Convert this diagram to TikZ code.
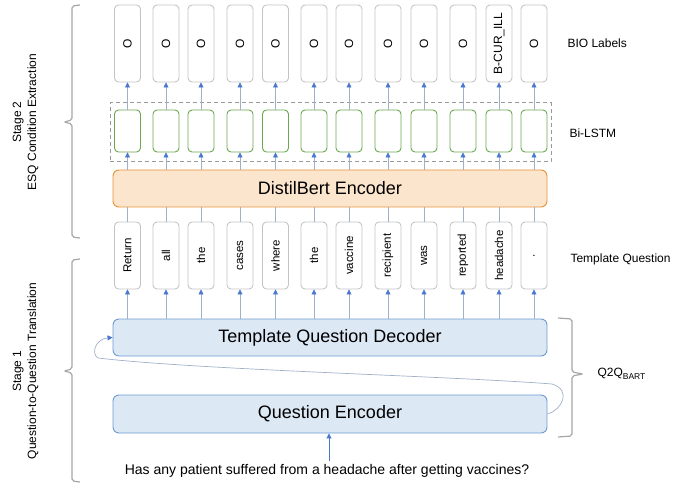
\documentclass[tikz,border=0pt]{standalone}
\usepackage{fontspec}
\setmainfont{Liberation Sans}
\usetikzlibrary{arrows.meta}
\definecolor{boxgray}{HTML}{C4C4C4}
\definecolor{lstmgreen}{HTML}{6AA84F}
\definecolor{bertfill}{HTML}{FCE5CD}
\definecolor{bertdraw}{HTML}{E69138}
\definecolor{q2qfill}{HTML}{DDE8F5}
\definecolor{q2qdraw}{HTML}{6C9BD2}
\definecolor{arrline}{HTML}{9FB0C8}
\definecolor{arrtip}{HTML}{4A78CF}
\definecolor{bracegray}{HTML}{A6A6A6}
\definecolor{dashgray}{HTML}{9A9A9A}
\begin{document}
\begin{tikzpicture}[x=1pt,y=-1pt,
  tokbox/.style={draw=boxgray,line width=.9,rounded corners=4,minimum width=26,minimum height=67,inner sep=0},
  biobox/.style={tokbox,minimum height=77},
  lstm/.style={draw=lstmgreen,line width=.9,rounded corners=4,minimum width=26,minimum height=42,inner sep=0},
  bigbox/.style={draw=q2qdraw,fill=q2qfill,line width=.9,rounded corners=6,minimum width=434,minimum height=37,inner sep=0,font=\fontsize{18}{20}\selectfont},
  toktext/.style={rotate=90,font=\fontsize{11.5}{13}\selectfont},
  side/.style={anchor=west,font=\fontsize{12}{14}\selectfont},
  arr/.style={draw=arrline,line width=.7,-{Triangle[length=5pt,width=5pt,color=arrtip]}},
  brc/.style={draw=bracegray,line width=1.2,rounded corners=2}]
\useasboundingbox (0,0) rectangle (694,484);
\node[draw=dashgray,dash pattern=on 4pt off 3pt,line width=1,minimum width=441,minimum height=59,inner sep=0] (grp) at (330.5,132.5) {};
\node[bigbox,draw=bertdraw,fill=bertfill] (bert) at (330,188.5) {DistilBert Encoder};
\node[bigbox] (dec) at (330,337.5) {Template Question Decoder};
\node[bigbox,minimum height=38] (enc) at (330,414) {Question Encoder};
\node[font=\fontsize{14}{16}\selectfont] (q) at (327,471) {Has any patient suffered from a headache after getting vaccines?};
\foreach \x/\w/\l [count=\i] in {127.5/Return/O, 166/all/O, 201/the/O, 240/cases/O, 275.5/where/O, 314/the/O, 349/vaccine/O, 388/recipient/O, 424/was/O, 463/reported/O, 499/headache/B-CUR\_ILL, 534/./O}{
  \node[tokbox] (t\i) at (\x,255.5) {};
  \node[toktext] at (t\i) {\w};
  \node[lstm] (h\i) at (\x,131) {};
  \node[biobox] (o\i) at (\x,43.5) {};
  \node[toktext,font=\fontsize{12}{14}\selectfont] at (o\i) {\l};
  \draw[arr] (t\i.south |- dec.north) -- (t\i.south);
  \draw[arrline,line width=.7] (t\i.north) -- (t\i.north |- bert.south);
  \draw[arr] (h\i.south |- bert.north) -- (h\i.south);
  \draw[arr] (h\i.north) -- (o\i.south);
}
\draw[arr,draw=arrtip,line width=1] (q.north -| 329,0) -- (enc.south -| 329,0);
\draw[arr] (enc.east) .. controls (562,410) and (572,390) .. (552,384) .. controls (450,376) and (200,370) .. (98,358) .. controls (91,354) and (95,339) .. (dec.west);
\node[side] (bio) at (564,43) {BIO Labels};
\node[side] (bil) at (566,133) {Bi-LSTM};
\node[side] (tq) at (567,259) {Template Question};
\node[side] (q2q) at (594,374) {Q2Q\raisebox{-.45ex}{\fontsize{8.5}{9}\selectfont BART}};
\node[rotate=90,align=center,font=\fontsize{12}{15}\selectfont] (s2) at (25.5,122) {Stage 2\\ESQ Condition Extraction};
\node[rotate=90,align=center,font=\fontsize{12}{15}\selectfont] (s1) at (25.5,371) {Stage 1\\Question-to-Question Translation};
\draw[brc] (80,5) -- (72,6) -- (72,120) -- (64,122) -- (72,124) -- (72,237) -- (80,238);
\draw[brc] (80,259) -- (72,260) -- (72,369) -- (64,371) -- (72,373) -- (72,481) -- (80,482);
\draw[brc] (558,318) -- (572,319) -- (572,372) -- (583,374) -- (572,376) -- (572,436) -- (558,437);
\end{tikzpicture}
\end{document}
